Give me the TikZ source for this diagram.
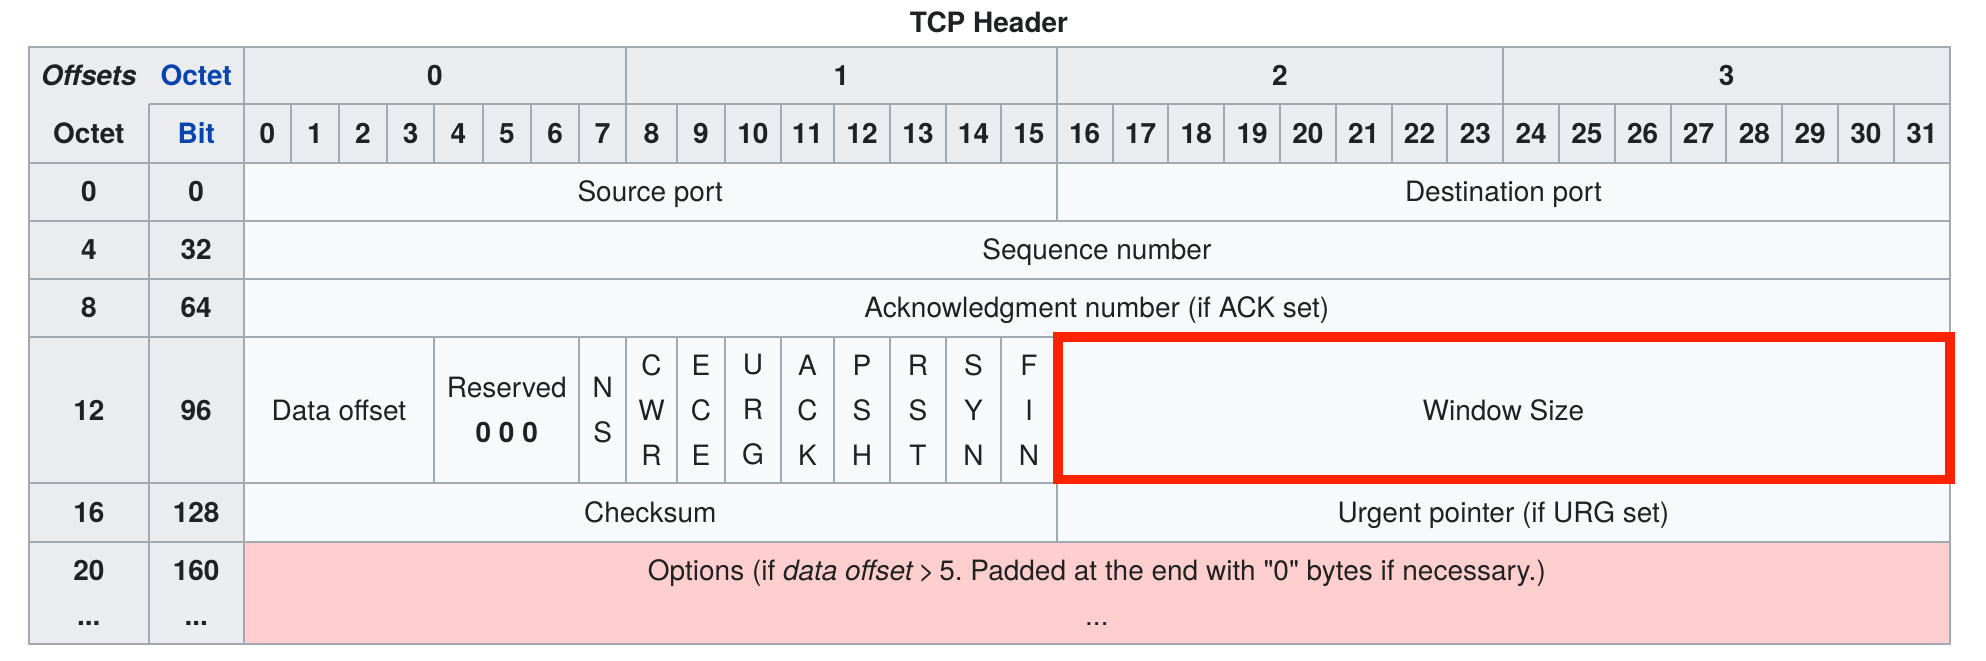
\documentclass[tikz,border=0pt]{standalone}
\usepackage{fontspec}
\setmainfont{TeX Gyre Heros}
\usetikzlibrary{calc}
\definecolor{hdrgray}{HTML}{EAECF0}
\definecolor{cellgray}{HTML}{F8F9FA}
\definecolor{linegray}{HTML}{A2A9B1}
\definecolor{optpink}{HTML}{FFCFCF}
\definecolor{linkblue}{HTML}{0645AD}
\definecolor{winred}{HTML}{FF2200}
\definecolor{txt}{HTML}{202122}
\frenchspacing
\begin{document}
\begin{tikzpicture}[x=0.5pt, y=-0.5pt,
    every node/.style={inner sep=0pt, text=txt, align=center, font=\fontsize{14}{22.5}\selectfont},
    hdr/.style={font=\fontsize{14}{22.5}\selectfont\bfseries},
    link/.style={hdr, text=linkblue},
    cell/.style={text height=10pt, text depth=0pt},
    tabline/.style={draw=linegray, line width=1pt},
    winbox/.style={draw=winred, line width=4.75pt}]
    \useasboundingbox (0,0) rectangle (1986,660);
    % Column and row borders
    \coordinate (l) at (29,0);
    \coordinate (s) at (148.7,0);
    \foreach \x [count=\i from 0] in {243.7,291,338.8,386.9,434.2,482.7,531.2,579.2,626.2,
        676.9,725,780.9,834,890,946,1001,1056.8,1112.6,1168.4,1224.2,1280,1335.8,1391.6,
        1447.4,1503.2,1559,1614.8,1670.6,1726.4,1782.2,1838,1893.8,1950}
        \coordinate (c\i) at (\x,0);
    \foreach \y [count=\j from 0] in {46.7,104.3,162.7,220.8,278.9,337,483,542,644}
        \coordinate (r\j) at (0,\y);
    % Backgrounds
    \fill[hdrgray] (l |- r0) rectangle (c32 |- r8);
    \fill[cellgray] (c0 |- r2) rectangle (c32 |- r7);
    \fill[optpink] (c0 |- r7) rectangle (c32 |- r8);
    % Grid
    \draw[tabline] (l |- r0) rectangle (c32 |- r8);
    \draw[tabline] (s |- r1) -- (c32 |- r1);
    \foreach \j in {2,...,7}
        \draw[tabline] (l |- r\j) -- (c32 |- r\j);
    \draw[tabline] (s |- r1) -- (s |- r8);
    \draw[tabline] (c0 |- r0) -- (c0 |- r8);
    \foreach \i in {8,16,24}
        \draw[tabline] (c\i |- r0) -- (c\i |- r1);
    \foreach \i in {1,...,31}
        \draw[tabline] (c\i |- r1) -- (c\i |- r2);
    \draw[tabline] (c16 |- r2) -- (c16 |- r3);
    \foreach \i in {4,7,8,...,16}
        \draw[tabline] (c\i |- r5) -- (c\i |- r6);
    \draw[tabline] (c16 |- r6) -- (c16 |- r7);
    % Title and header labels
    \node[hdr] (title) at (989,22) {TCP Header};
    \node[hdr, cell] (offsets) at ($(l |- r0)!0.5!(s |- r1)$) {\textit{Offsets}};
    \node[link, cell] (octettop) at ($(s |- r0)!0.5!(c0 |- r1)$) {Octet};
    \node[hdr, cell] (octet) at ($(l |- r1)!0.5!(s |- r2)$) {Octet};
    \node[link, cell] (bit) at ($(s |- r1)!0.5!(c0 |- r2)$) {Bit};
    \foreach \i/\a/\b in {0/0/8, 1/8/16, 2/16/24, 3/24/32}
        \node[hdr, cell] (byte\i) at ($(c\a |- r0)!0.5!(c\b |- r1)$) {\i};
    \foreach \i in {0,...,31}
    {
        \pgfmathtruncatemacro{\k}{\i+1}
        \node[hdr, cell] (bit\i) at ($(c\i |- r1)!0.5!(c\k |- r2)$) {\i};
    }
    % Offsets
    \foreach \oc/\bt [count=\j from 2] in {0/0, 4/32, 8/64, 12/96, 16/128}
    {
        \pgfmathtruncatemacro{\k}{\j+1}
        \node[hdr, cell] (octrow\oc) at ($(l |- r\j)!0.5!(s |- r\k)$) {\oc};
        \node[hdr, cell] (bitrow\bt) at ($(s |- r\j)!0.5!(c0 |- r\k)$) {\bt};
    }
    \node[hdr] (octrow20) at ($(l |- r7)!0.5!(s |- r8)$) {20\\...};
    \node[hdr] (bitrow160) at ($(s |- r7)!0.5!(c0 |- r8)$) {160\\...};
    % Fields
    \node[cell] (srcport) at ($(c0 |- r2)!0.5!(c16 |- r3)$) {Source port};
    \node[cell] (dstport) at ($(c16 |- r2)!0.5!(c32 |- r3)$) {Destination port};
    \node[cell] (seqnum) at ($(c0 |- r3)!0.5!(c32 |- r4)$) {Sequence number};
    \node[cell] (acknum) at ($(c0 |- r4)!0.5!(c32 |- r5)$) {Acknowledgment number (if ACK set)};
    \node[cell] (dataoff) at ($(c0 |- r5)!0.5!(c4 |- r6)$) {Data offset};
    \node (reserved) at ($(c4 |- r5)!0.5!(c7 |- r6)$) {Reserved\\\textbf{0 0 0}};
    \node (ns) at ($(c7 |- r5)!0.5!(c8 |- r6)$) {N\\S};
    \foreach \a/\b/\c [count=\i from 8] in {C/W/R, E/C/E, U/R/G, A/C/K, P/S/H, R/S/T, S/Y/N, F/I/N}
    {
        \pgfmathtruncatemacro{\k}{\i+1}
        \node (flag\i) at ($(c\i |- r5)!0.5!(c\k |- r6)$) {\a\\\b\\\c};
    }
    \node[cell] (winsize) at ($(c16 |- r5)!0.5!(c32 |- r6)$) {Window Size};
    \node[cell] (checksum) at ($(c0 |- r6)!0.5!(c16 |- r7)$) {Checksum};
    \node[cell] (urgptr) at ($(c16 |- r6)!0.5!(c32 |- r7)$) {Urgent pointer (if URG set)};
    \node (options) at ($(c0 |- r7)!0.5!(c32 |- r8)$)
        {Options (if \textit{data offset}\,>\,5. Padded at the end with \textquotedbl 0\textquotedbl\ bytes if necessary.)\\...};
    % Highlight
    \draw[winbox] (1058,337) rectangle (1950,479.5);
\end{tikzpicture}
\end{document}
